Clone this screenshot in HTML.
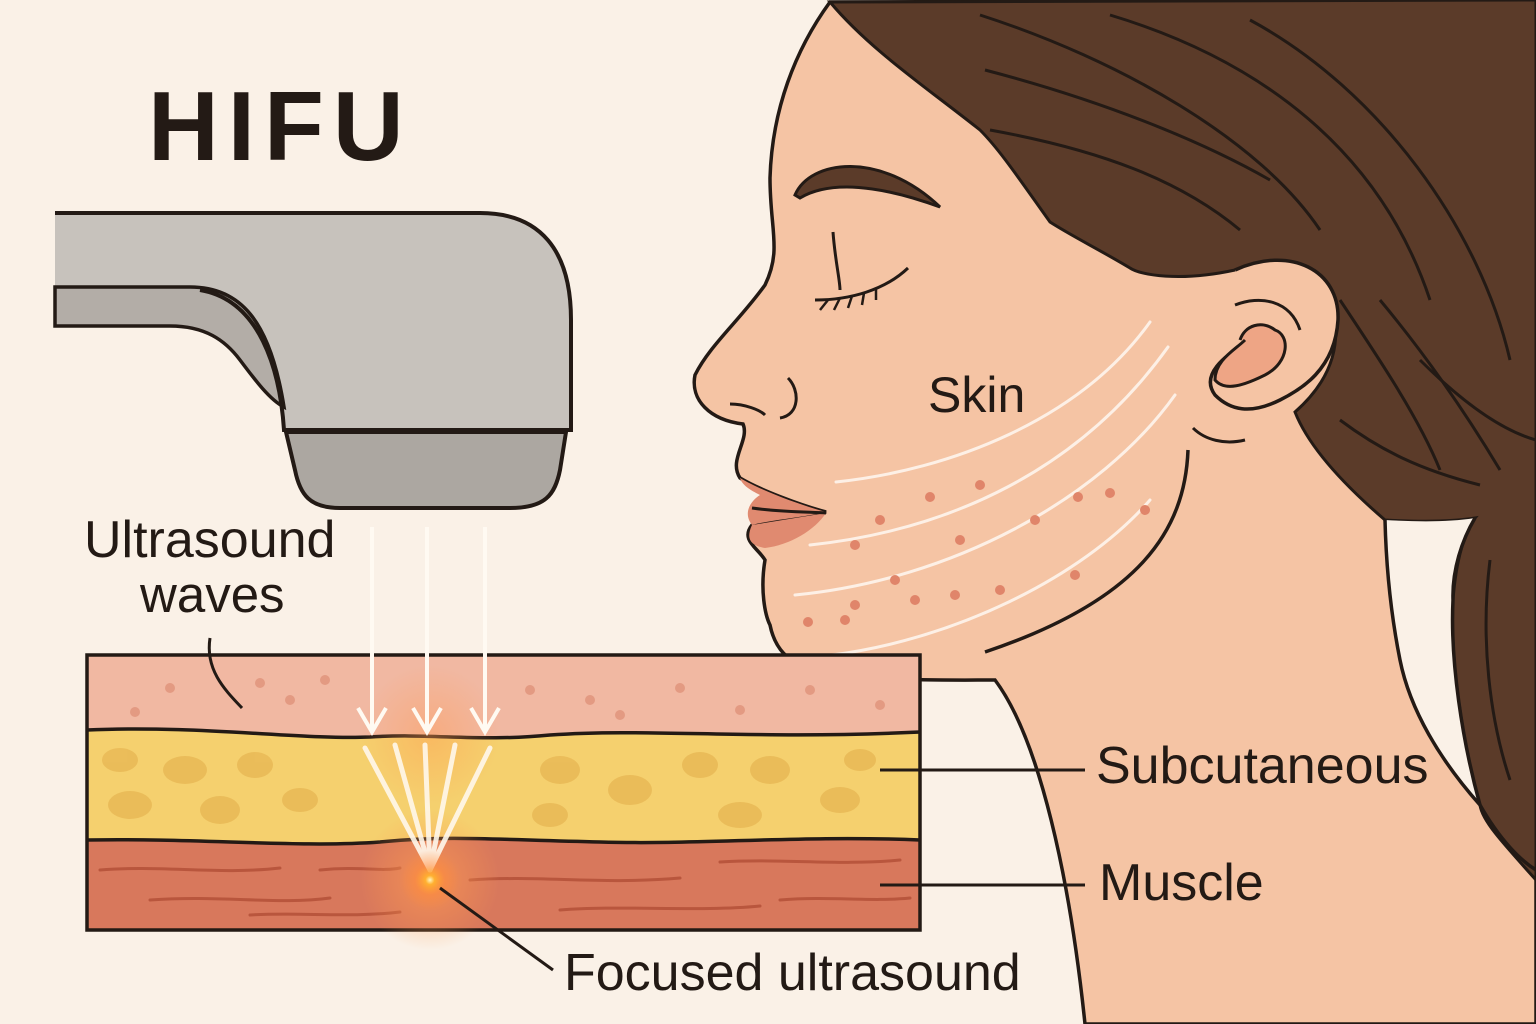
<!DOCTYPE html>
<html><head><meta charset="utf-8"><style>
html,body{margin:0;padding:0;background:#faf1e7;}
svg{display:block;}
text{font-family:"Liberation Sans",sans-serif;fill:#231a15;}
</style></head><body>
<svg width="1536" height="1024" viewBox="0 0 1536 1024" xmlns="http://www.w3.org/2000/svg">
<defs>
<radialGradient id="glow" cx="0.5" cy="0.5" r="0.5">
<stop offset="0" stop-color="#fff6c0"/>
<stop offset="0.15" stop-color="#ffb030"/>
<stop offset="0.5" stop-color="#ff8a3a" stop-opacity="0.5"/>
<stop offset="1" stop-color="#ff8a3a" stop-opacity="0"/>
</radialGradient>
<radialGradient id="glow2" cx="0.5" cy="0.5" r="0.5">
<stop offset="0" stop-color="#ff9a50" stop-opacity="0.7"/>
<stop offset="1" stop-color="#ff9a50" stop-opacity="0"/>
</radialGradient>
</defs>
<rect width="1536" height="1024" fill="#faf1e7"/>

<!-- skin of face/neck -->
<path d="M830,2 C795,50 772,110 770,178 C770,230 782,250 765,285 C740,320 710,345 695,375 C690,400 710,420 743,424 C750,440 728,460 740,478 C760,490 800,505 826,512 C800,518 770,520 752,525 C740,540 758,548 765,560 C760,590 765,615 770,625 C775,650 790,662 805,667 C860,682 940,680 995,680 C1040,740 1070,880 1085,1024 L1536,1024 L1536,0 Z" fill="#f5c4a4" stroke="#231a15" stroke-width="3.5"/>
<!-- lips -->
<path d="M740,478 C760,490 800,505 826,512 C800,518 770,520 752,525 C742,512 752,500 760,495 C750,490 742,485 740,478 Z" fill="#e08a70"/>
<path d="M752,525 C745,540 752,546 765,548 C790,545 815,530 826,513" fill="#e08a70"/>
<path d="M752,508 C780,512 810,512 826,513" fill="none" stroke="#231a15" stroke-width="3"/>

<!-- hair -->
<path d="M830,2 L1536,0 L1536,880 C1500,840 1482,820 1480,805 C1462,740 1450,660 1453,600 C1456,560 1465,530 1475,518 C1450,522 1420,522 1385,520 C1350,490 1310,450 1295,412 C1320,390 1340,360 1335,320 C1330,270 1290,250 1235,270 C1180,282 1140,275 1130,268 C1100,250 1070,235 1050,222 C1020,180 1000,150 980,130 C930,90 870,50 830,2 Z" fill="#5b3b29" stroke="#231a15" stroke-width="3"/>
<!-- back neck gap (background) -->
<path d="M1385,520 C1420,522 1450,522 1475,518 C1462,540 1452,570 1453,600 C1450,660 1462,740 1480,805 C1440,760 1410,710 1400,660 C1390,610 1386,560 1385,520 Z" fill="#faf1e7"/>
<path d="M1475,518 C1462,540 1452,570 1453,600 C1450,660 1462,740 1480,805" fill="none" stroke="#231a15" stroke-width="3.5"/>
<g fill="none" stroke="#231a15" stroke-width="3">
<path d="M980,15 C1120,60 1260,140 1320,230"/>
<path d="M1110,15 C1260,60 1380,150 1430,300"/>
<path d="M1250,20 C1380,90 1480,230 1510,360"/>
<path d="M985,70 C1100,100 1200,140 1270,180"/>
<path d="M990,130 C1100,150 1180,180 1240,230"/>
<path d="M1340,300 C1380,360 1420,420 1440,470"/>
<path d="M1380,300 C1430,360 1470,420 1500,470"/>
<path d="M1340,420 C1380,450 1420,470 1480,485"/>
<path d="M1490,560 C1480,640 1490,720 1510,780"/>
<path d="M1420,360 C1460,400 1500,430 1536,440"/>
</g>
<!-- ear -->
<path d="M1235,270 C1290,245 1340,270 1338,320 C1335,370 1300,390 1280,400 C1250,415 1230,410 1215,395 C1200,375 1225,355 1245,345" fill="#f5c4a4" stroke="#231a15" stroke-width="3.5"/>
<path d="M1245,340 C1235,350 1215,360 1215,380 C1225,392 1245,385 1265,375 C1290,362 1290,335 1275,330 C1262,320 1245,325 1240,340" fill="#eea585" stroke="#231a15" stroke-width="3"/>
<path d="M1235,305 C1260,295 1290,300 1300,330" fill="none" stroke="#231a15" stroke-width="3"/>
<path d="M1193,428 C1205,440 1225,445 1245,440" fill="none" stroke="#231a15" stroke-width="3"/>
<!-- jaw line -->
<path d="M1188,450 C1185,530 1140,600 985,652" fill="none" stroke="#231a15" stroke-width="3.5"/>
<!-- back neck line -->
<path d="M1385,520 C1386,560 1390,610 1400,660 C1410,710 1440,760 1480,805 C1500,840 1520,860 1536,870" fill="none" stroke="#231a15" stroke-width="3.5"/>
<!-- eyebrow & eye -->
<path d="M795,195 C810,160 880,150 940,207 C880,185 830,180 800,198 Z" fill="#5b3b29" stroke="#231a15" stroke-width="3"/>
<path d="M833,232 C835,260 840,280 840,290" fill="none" stroke="#231a15" stroke-width="3"/>
<path d="M815,300 C850,300 885,290 908,268" fill="none" stroke="#231a15" stroke-width="3"/>
<path d="M828,300 l-8,10 M840,298 l-6,12 M852,296 l-4,12 M864,293 l-2,12 M876,289 l0,11" stroke="#231a15" stroke-width="2.5"/>
<!-- nostril -->
<path d="M788,378 C800,390 800,415 780,418" fill="none" stroke="#231a15" stroke-width="3"/>
<path d="M730,404 C745,404 760,410 765,415" fill="none" stroke="#231a15" stroke-width="3"/>
<!-- face lines -->
<g fill="none" stroke="#fdf0e6" stroke-width="3" stroke-linecap="round">
<path d="M836,482 C950,470 1080,420 1150,322"/>
<path d="M810,545 C950,530 1080,470 1168,347"/>
<path d="M795,595 C950,580 1100,500 1175,395"/>
<path d="M832,655 C950,640 1080,580 1150,500"/>
</g>
<g fill="#e0856a">
<circle cx="855" cy="545" r="5"/><circle cx="880" cy="520" r="5"/><circle cx="930" cy="497" r="5"/><circle cx="980" cy="485" r="5"/><circle cx="1078" cy="497" r="5"/><circle cx="1035" cy="520" r="5"/><circle cx="1145" cy="510" r="5"/><circle cx="1110" cy="493" r="5"/><circle cx="960" cy="540" r="5"/><circle cx="895" cy="580" r="5"/><circle cx="855" cy="605" r="5"/><circle cx="808" cy="622" r="5"/><circle cx="845" cy="620" r="5"/><circle cx="955" cy="595" r="5"/><circle cx="1000" cy="590" r="5"/><circle cx="1075" cy="575" r="5"/><circle cx="915" cy="600" r="5"/>
</g>

<!-- title -->
<text x="148" y="160" font-size="98" font-weight="bold" letter-spacing="9">HIFU</text>

<!-- device -->
<path d="M55,213 L480,213 C540,213 571,250 571,320 L571,430 L284,430 C280,370 260,326 200,326 L55,326 Z" fill="#c7c2bc"/>
<path d="M55,287 L190,287 C240,287 270,320 284,407 C270,400 255,380 240,360 C225,340 205,326 170,326 L55,326 Z" fill="#b3ada7" stroke="#231a15" stroke-width="3.5"/>
<path d="M55,213 L480,213 C540,213 571,250 571,320 L571,430 L284,430 C280,370 260,300 200,290" fill="none" stroke="#231a15" stroke-width="4"/>
<path d="M286,432 L566,432 L560,470 C555,495 545,508 510,508 L340,508 C310,508 300,495 295,470 Z" fill="#aca7a1" stroke="#231a15" stroke-width="4"/>

<!-- layers -->
<rect x="87" y="655" width="833" height="275" fill="#f1b8a2"/>
<path d="M87,730 C200,725 300,740 370,737 C430,733 480,742 550,735 C650,728 750,740 920,732 L920,840 C800,835 700,845 600,842 C500,840 450,835 380,842 C300,848 200,838 87,840 Z" fill="#f5d06e"/>
<path d="M87,840 C200,838 300,848 380,842 C450,835 500,840 600,842 C700,845 800,835 920,840 L920,930 L87,930 Z" fill="#d8785c"/>
<g fill="none" stroke="#231a15" stroke-width="3.5">
<path d="M87,730 C200,725 300,740 370,737 C430,733 480,742 550,735 C650,728 750,740 920,732"/>
<path d="M87,840 C200,838 300,848 380,842 C450,835 500,840 600,842 C700,845 800,835 920,840"/>
</g>
<rect x="87" y="655" width="833" height="275" fill="none" stroke="#231a15" stroke-width="3.5"/>
<g fill="#e39a82">
<circle cx="170" cy="688" r="5"/><circle cx="135" cy="712" r="5"/><circle cx="260" cy="683" r="5"/><circle cx="290" cy="700" r="5"/><circle cx="325" cy="680" r="5"/><circle cx="530" cy="690" r="5"/><circle cx="590" cy="700" r="5"/><circle cx="680" cy="688" r="5"/><circle cx="740" cy="710" r="5"/><circle cx="810" cy="690" r="5"/><circle cx="880" cy="705" r="5"/><circle cx="620" cy="715" r="5"/>
</g>
<g fill="#e8b855" opacity="0.8">
<ellipse cx="120" cy="760" rx="18" ry="12"/><ellipse cx="185" cy="770" rx="22" ry="14"/><ellipse cx="255" cy="765" rx="18" ry="13"/><ellipse cx="130" cy="805" rx="22" ry="14"/><ellipse cx="220" cy="810" rx="20" ry="14"/><ellipse cx="300" cy="800" rx="18" ry="12"/><ellipse cx="560" cy="770" rx="20" ry="14"/><ellipse cx="630" cy="790" rx="22" ry="15"/><ellipse cx="700" cy="765" rx="18" ry="13"/><ellipse cx="770" cy="770" rx="20" ry="14"/><ellipse cx="740" cy="815" rx="22" ry="13"/><ellipse cx="840" cy="800" rx="20" ry="13"/><ellipse cx="860" cy="760" rx="16" ry="11"/><ellipse cx="550" cy="815" rx="18" ry="12"/>
</g>
<g fill="none" stroke="#b9563d" stroke-width="3" stroke-linecap="round">
<path d="M100,870 C160,865 220,875 280,868"/><path d="M150,900 C220,895 280,905 330,898"/><path d="M320,870 C360,866 380,872 400,868"/><path d="M470,880 C540,875 600,885 680,878"/><path d="M560,910 C620,905 700,912 760,906"/><path d="M720,862 C780,858 840,866 900,860"/><path d="M780,900 C830,896 870,902 910,898"/><path d="M250,915 C300,912 350,918 400,912"/>
</g>

<!-- glow and rays -->
<circle cx="430" cy="880" r="70" fill="url(#glow2)"/>
<circle cx="430" cy="735" r="70" fill="url(#glow2)" opacity="0.6"/>
<g stroke="#fff8ec" stroke-width="5" stroke-linecap="round" opacity="0.9">
<path d="M430,870 L365,748"/><path d="M430,870 L395,745"/><path d="M430,870 L425,745"/><path d="M430,870 L455,745"/><path d="M430,870 L490,748"/>
</g>
<circle cx="430" cy="880" r="30" fill="url(#glow)"/>

<!-- arrows -->
<g stroke="#fffaf2" stroke-width="4" fill="none">
<path d="M372,527 L372,730 M358,708 L372,732 L386,708"/>
<path d="M427,527 L427,730 M413,708 L427,732 L441,708"/>
<path d="M485,527 L485,730 M471,708 L485,732 L499,708"/>
</g>

<!-- leader lines -->
<g stroke="#231a15" stroke-width="3" fill="none">
<path d="M210,638 C205,670 225,690 242,708"/>
<path d="M880,770 L1085,770"/>
<path d="M880,885 L1085,885"/>
<path d="M440,888 L553,970"/>
</g>

<!-- labels -->
<text x="84" y="557" font-size="52">Ultrasound</text>
<text x="140" y="612" font-size="51">waves</text>
<text x="928" y="412" font-size="50">Skin</text>
<text x="1096" y="783" font-size="52">Subcutaneous</text>
<text x="1099" y="900" font-size="52">Muscle</text>
<text x="564" y="990" font-size="52">Focused ultrasound</text>
</svg>
</body></html>
